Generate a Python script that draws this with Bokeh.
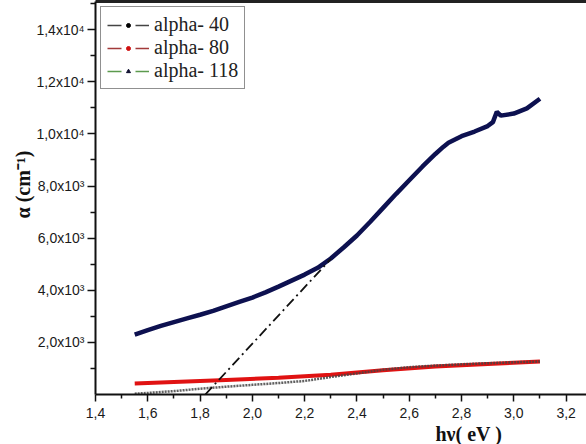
from bokeh.plotting import figure
from bokeh.models import (ColumnDataSource, FixedTicker, CustomJSTickFormatter, LinearAxis,
                          Legend, LegendItem, Title, Range1d)
from bokeh.embed import file_html
from bokeh.resources import INLINE

# ---- data ----
navy_x = [1.55, 1.60, 1.65, 1.70, 1.75, 1.80, 1.85, 1.90, 1.95, 2.00, 2.05, 2.10, 2.15, 2.20,
          2.25, 2.30, 2.35, 2.40, 2.45, 2.50, 2.55, 2.60, 2.65, 2.70, 2.73, 2.75, 2.80, 2.85,
          2.90, 2.92, 2.935, 2.95, 3.00, 3.05, 3.10]
navy_y = [2300, 2470, 2630, 2780, 2920, 3060, 3210, 3380, 3550, 3720, 3920, 4140, 4370, 4600,
          4860, 5220, 5650, 6100, 6620, 7160, 7700, 8220, 8740, 9230, 9500, 9660, 9910, 10090,
          10300, 10450, 10850, 10700, 10780, 10980, 11350]

red_x = [1.55, 1.70, 1.90, 2.10, 2.30, 2.50, 2.70, 2.90, 3.10]
red_y = [420, 480, 560, 640, 760, 930, 1070, 1170, 1270]

grey_x = [1.55, 1.60, 1.70, 1.80, 1.90, 2.00, 2.10, 2.20, 2.30, 2.40, 2.50, 2.60, 2.70, 2.80,
          2.90, 3.00, 3.10]
grey_y = [30, 60, 130, 220, 300, 370, 440, 520, 670, 810, 950, 1050, 1110, 1160, 1200, 1235, 1265]

tangent_x = [1.82, 2.30]
tangent_y = [0, 5200]

legend_labels = ["alpha- 40", "alpha- 80", "alpha- 118"]
legend_line_colors = ["#444444", "#a23a3a", "#5c9a4e"]
legend_marker_colors = ["#000000", "#d01010", "#101030"]
legend_markers = ["circle", "circle", "triangle"]

x_ticks = [1.4, 1.6, 1.8, 2.0, 2.2, 2.4, 2.6, 2.8, 3.0, 3.2]
x_minor = [1.5, 1.7, 1.9, 2.1, 2.3, 2.5, 2.7, 2.9, 3.1]
y_ticks = [2000, 4000, 6000, 8000, 10000, 12000, 14000]
y_minor = [1000, 3000, 5000, 7000, 9000, 11000, 13000, 15000]

x_label = "hν( eV )"
y_label = "α (cm⁻¹)"

# ---- figure ----
p = figure(width=586, height=444, output_backend="svg", toolbar_location=None,
           x_range=Range1d(1.4, 3.278), y_range=Range1d(0, 15080),
           min_border_left=95, min_border_right=0, min_border_top=1, min_border_bottom=49)
p.xgrid.visible = False
p.ygrid.visible = False
p.outline_line_color = None
p.background_fill_color = "white"
p.border_fill_color = "white"

tick_font = "Liberation Sans"
for ax in (p.xaxis[0], p.yaxis[0]):
    ax.axis_line_width = 2
    ax.axis_line_color = "#111111"
    ax.major_tick_line_color = "#111111"
    ax.minor_tick_line_color = "#111111"
    ax.major_tick_line_width = 1.5
    ax.minor_tick_line_width = 1.5
    ax.major_tick_in = 0
    ax.minor_tick_in = 0
    ax.major_label_text_font = tick_font
    ax.major_label_text_font_size = "14px"
    ax.major_label_text_color = "#1a1a1a"

p.xaxis[0].ticker = FixedTicker(ticks=x_ticks, minor_ticks=x_minor)
p.xaxis[0].major_tick_out = 7
p.xaxis[0].minor_tick_out = 4
p.xaxis[0].major_label_standoff = 6
p.xaxis[0].formatter = CustomJSTickFormatter(code="return tick.toFixed(1).replace('.', ',');")

p.yaxis[0].ticker = FixedTicker(ticks=y_ticks, minor_ticks=y_minor)
p.yaxis[0].major_tick_out = 8
p.yaxis[0].minor_tick_out = 5
p.yaxis[0].major_label_standoff = 3
p.yaxis[0].formatter = CustomJSTickFormatter(code="""
const e = Math.floor(Math.log10(tick) + 1e-9);
const m = tick / Math.pow(10, e);
const sup = {3: '\u00b3', 4: '\u2074'};
return m.toFixed(1).replace('.', ',') + 'x10' + sup[e];
""")

top_axis = LinearAxis(ticker=FixedTicker(ticks=[]), major_label_text_font_size="0px",
                      major_tick_out=0, major_tick_in=0, minor_tick_out=0, minor_tick_in=0,
                      axis_line_width=3, axis_line_color="#222222", major_label_standoff=0)
p.add_layout(top_axis, "above")

# ---- series ----
p.line(navy_x, navy_y, line_color="#0d1150", line_width=4.5)
p.line(red_x, red_y, line_color="#e01212", line_width=4)
p.line(grey_x, grey_y, line_color="#444444", line_width=2.5, line_dash="2 1", line_alpha=0.85)
p.line(tangent_x, tangent_y, line_color="#111111", line_width=1.8, line_dash="10 4 2 4")

# ---- legend (style swatches; dummy points lie outside the visible ranges) ----
items = []
for lab, lc, mc, mk in zip(legend_labels, legend_line_colors, legend_marker_colors, legend_markers):
    src = ColumnDataSource(data=dict(x=[-100], y=[-100000]))
    r1 = p.line("x", "y", source=src, line_color=lc, line_width=1.5, line_dash="14 14")
    r2 = p.scatter("x", "y", source=src, marker=mk, size=5,
                   fill_color=mc, line_color=mc)
    items.append(LegendItem(label=lab, renderers=[r1, r2]))

legend = Legend(items=items, location="top_left", margin=5, padding=6, spacing=0,
                glyph_width=42, glyph_height=10, label_height=21, label_standoff=5,
                label_text_font="Liberation Serif", label_text_font_size="20px",
                label_text_color="#222222",
                border_line_color="#222222", border_line_width=1.5,
                background_fill_alpha=1.0)
p.add_layout(legend)

# ---- axis titles ----
p.add_layout(Title(text=x_label, align="left", offset=340, standoff=0,
                   text_font="Liberation Serif", text_font_style="bold",
                   text_font_size="20px", text_color="#111111"), "below")
p.add_layout(Title(text=y_label, align="left", offset=176, standoff=0,
                   text_font="Liberation Serif", text_font_style="bold",
                   text_font_size="20px", text_color="#111111"), "left")

open("out.html", "w").write(file_html(p, INLINE))
